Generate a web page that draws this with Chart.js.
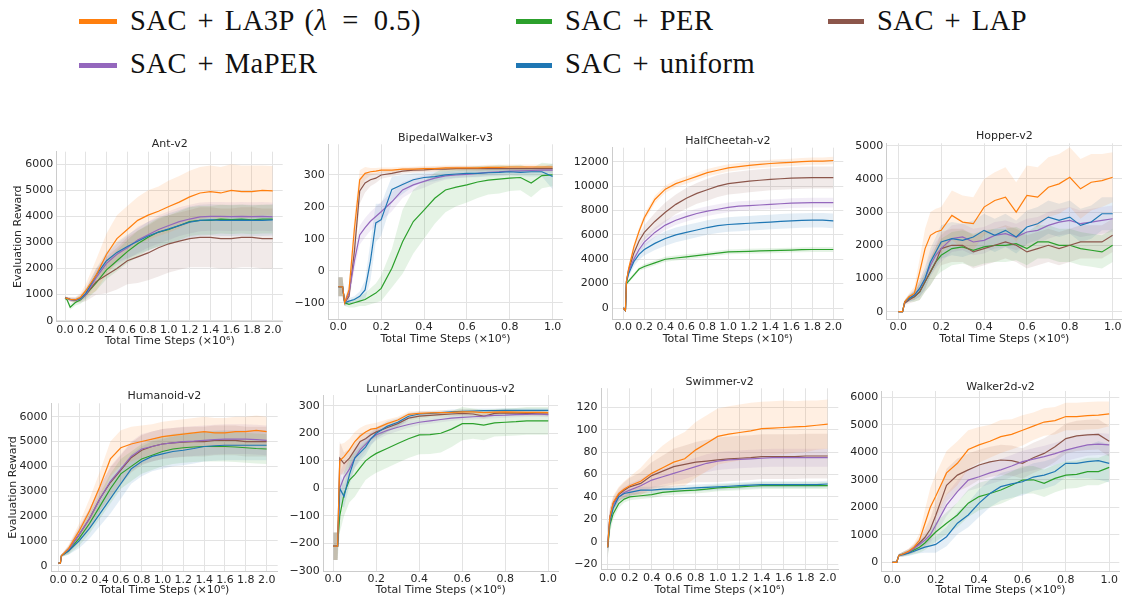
<!DOCTYPE html>
<html>
<head>
<meta charset="utf-8">
<script src="https://cdn.jsdelivr.net/npm/chart.js@4.4.1/dist/chart.umd.min.js"></script>
<style>
  html, body { margin: 0; padding: 0; background: #fff; }
  body { position: relative; width: 1122px; height: 596px; overflow: hidden; }
  canvas { position: absolute; }
  .key { position: absolute; height: 5px; }
  .lab { position: absolute; font-family: "Liberation Serif", serif; font-size: 28.5px; line-height: 28.5px;
         color: #111; white-space: nowrap; letter-spacing: 0.5px; word-spacing: 3px; }
</style>
</head>
<body>
<div class="key" style="left:79px;top:18.5px;width:38px;background:#ff7f0e"></div>
<div class="lab" style="left:130px;top:6.8px">SAC + LA3P (<i>λ</i><span style="padding:0 15px">=</span>0.5)</div>
<div class="key" style="left:79px;top:62.5px;width:38px;background:#9467bd"></div>
<div class="lab" style="left:130px;top:50.1px">SAC + MaPER</div>
<div class="key" style="left:516px;top:18.5px;width:36px;background:#2ca02c"></div>
<div class="lab" style="left:565px;top:6.8px">SAC + PER</div>
<div class="key" style="left:516px;top:62.5px;width:36px;background:#1f77b4"></div>
<div class="lab" style="left:565px;top:50.1px">SAC + uniform</div>
<div class="key" style="left:828px;top:18.5px;width:36px;background:#8c564b"></div>
<div class="lab" style="left:877px;top:6.8px">SAC + LAP</div>

<script>
// method colours (matplotlib tab10)
const cLA3P = "#ff7f0e", cPER = "#2ca02c", cLAP = "#8c564b", cMaPER = "#9467bd", cUni = "#1f77b4";

const longTicks = [0, 0.2, 0.4, 0.6, 0.8, 1.0, 1.2, 1.4, 1.6, 1.8, 2.0];
const shortTicks = [0, 0.2, 0.4, 0.6, 0.8, 1.0];

// ---- Ant-v2 ----
const antX = [0, 0.02, 0.05, 0.1, 0.15, 0.2, 0.3, 0.4, 0.5, 0.6, 0.7, 0.8, 0.9, 1.0, 1.1, 1.2, 1.3, 1.4, 1.5, 1.6, 1.7, 1.8, 1.9, 2.0];
const antYTicks = [0, 1000, 2000, 3000, 4000, 5000, 6000];
const antLA3P = [870, 860, 820, 800, 900, 1150, 1750, 2550, 3150, 3500, 3850, 4050, 4200, 4380, 4550, 4750, 4900, 4950, 4900, 5000, 4950, 4950, 5000, 4980];
const antLA3Psd = [60, 60, 80, 100, 150, 250, 600, 800, 900, 900, 900, 950, 950, 1000, 1000, 1000, 1000, 1000, 1000, 1000, 1000, 1000, 950, 950];
const antPER = [870, 800, 520, 700, 800, 1000, 1450, 1950, 2300, 2650, 2950, 3200, 3400, 3500, 3650, 3800, 3850, 3850, 3900, 3880, 3900, 3870, 3900, 3900];
const antPERsd = [50, 80, 100, 120, 150, 200, 300, 350, 400, 450, 500, 500, 550, 550, 550, 550, 550, 550, 550, 550, 550, 550, 550, 550];
const antLAP = [870, 860, 820, 790, 850, 1000, 1500, 1750, 2000, 2300, 2450, 2600, 2800, 2950, 3050, 3150, 3200, 3200, 3150, 3150, 3200, 3200, 3150, 3150];
const antLAPsd = [50, 50, 80, 100, 150, 250, 500, 700, 800, 900, 1000, 1050, 1100, 1100, 1100, 1100, 1150, 1150, 1150, 1150, 1150, 1150, 1150, 1150];
const antMaPER = [870, 860, 800, 780, 830, 1000, 1650, 2200, 2550, 2800, 3100, 3300, 3500, 3650, 3800, 3900, 3980, 4000, 4000, 3990, 4000, 3990, 4000, 3980];
const antMaPERsd = [50, 50, 60, 80, 100, 150, 250, 350, 400, 450, 500, 500, 550, 550, 550, 550, 550, 550, 550, 550, 550, 550, 550, 550];
const antUni = [870, 860, 820, 790, 850, 1050, 1750, 2300, 2620, 2850, 3050, 3250, 3400, 3520, 3650, 3780, 3850, 3870, 3850, 3850, 3860, 3850, 3850, 3870];
const antUnisd = [50, 50, 60, 80, 100, 150, 250, 350, 400, 450, 500, 550, 550, 600, 600, 600, 600, 600, 600, 600, 600, 600, 600, 600];

// ---- BipedalWalker-v3 ----
const bipX = [0, 0.02, 0.03, 0.05, 0.075, 0.1, 0.125, 0.15, 0.175, 0.2, 0.25, 0.3, 0.35, 0.4, 0.45, 0.5, 0.55, 0.6, 0.65, 0.7, 0.75, 0.8, 0.85, 0.9, 0.95, 1.0];
const bipYTicks = [-100, 0, 100, 200, 300];
const bipLA3P = [-50, -50, -100, -60, 130, 285, 305, 310, 312, 315, 315, 318, 318, 320, 320, 322, 322, 322, 322, 324, 324, 325, 325, 325, 325, 325];
const bipLA3Psd = [30, 30, 10, 20, 40, 30, 20, 12, 10, 8, 8, 8, 8, 8, 8, 8, 8, 8, 8, 8, 8, 8, 8, 8, 8, 8];
const bipPER = [-50, -50, -100, -105, -100, -95, -90, -80, -70, -55, 8, 91, 154, 190, 227, 253, 262, 269, 278, 284, 287, 290, 292, 275, 298, 300];
const bipPERsd = [30, 30, 10, 10, 15, 15, 20, 25, 30, 40, 60, 100, 100, 90, 80, 70, 60, 55, 50, 45, 45, 40, 40, 45, 40, 35];
const bipLAP = [-50, -50, -100, -80, 60, 250, 275, 285, 290, 300, 305, 312, 315, 316, 318, 318, 320, 320, 320, 320, 320, 320, 320, 320, 320, 320];
const bipLAPsd = [30, 30, 10, 20, 40, 40, 30, 20, 15, 12, 10, 8, 8, 8, 8, 8, 8, 8, 8, 8, 8, 8, 8, 8, 8, 8];
const bipMaPER = [-50, -50, -100, -70, 30, 112, 135, 155, 170, 185, 216, 253, 269, 280, 290, 297, 300, 302, 305, 308, 310, 312, 313, 314, 315, 315];
const bipMaPERsd = [30, 30, 10, 20, 30, 30, 30, 30, 30, 30, 30, 25, 20, 20, 15, 12, 10, 10, 10, 10, 10, 10, 10, 10, 10, 10];
const bipUni = [-50, -50, -100, -95, -90, -80, -60, 30, 150, 160, 255, 270, 285, 292, 295, 300, 303, 305, 305, 307, 308, 310, 308, 310, 310, 295];
const bipUnisd = [30, 30, 10, 10, 10, 15, 30, 60, 60, 50, 40, 30, 20, 15, 15, 12, 12, 12, 12, 12, 12, 12, 12, 15, 15, 40];

// ---- HalfCheetah-v2 ----
const hcX = [0, 0.02, 0.03, 0.05, 0.1, 0.15, 0.2, 0.3, 0.4, 0.5, 0.6, 0.7, 0.8, 0.9, 1.0, 1.1, 1.2, 1.3, 1.4, 1.5, 1.6, 1.7, 1.8, 1.9, 2.0];
const hcYTicks = [0, 2000, 4000, 6000, 8000, 10000, 12000];
const hcLA3P = [0, -200, 2200, 3200, 5000, 6300, 7400, 8900, 9750, 10200, 10500, 10800, 11100, 11300, 11500, 11600, 11700, 11780, 11850, 11900, 11950, 12000, 12050, 12050, 12100];
const hcLA3Psd = [50, 100, 200, 250, 300, 300, 300, 300, 300, 300, 300, 300, 300, 300, 300, 300, 300, 300, 300, 300, 300, 300, 300, 300, 300];
const hcPER = [0, -200, 2000, 2200, 2700, 3200, 3400, 3700, 4000, 4100, 4200, 4300, 4400, 4500, 4600, 4620, 4650, 4680, 4700, 4720, 4750, 4780, 4800, 4800, 4800];
const hcPERsd = [50, 100, 150, 150, 150, 150, 200, 200, 200, 200, 200, 200, 200, 200, 200, 200, 200, 200, 200, 200, 200, 200, 200, 200, 200];
const hcLAP = [0, -200, 2200, 3100, 4500, 5500, 6200, 7100, 7850, 8500, 9000, 9400, 9700, 10000, 10200, 10300, 10400, 10480, 10550, 10600, 10650, 10680, 10700, 10700, 10700];
const hcLAPsd = [50, 100, 200, 300, 400, 500, 600, 700, 800, 800, 850, 850, 900, 900, 900, 900, 900, 900, 900, 900, 900, 900, 900, 900, 900];
const hcMaPER = [0, -200, 2200, 3000, 4000, 4800, 5400, 6200, 6800, 7200, 7500, 7750, 7950, 8100, 8250, 8350, 8400, 8450, 8500, 8550, 8600, 8620, 8650, 8650, 8650];
const hcMaPERsd = [50, 100, 200, 250, 300, 350, 400, 400, 400, 400, 400, 400, 400, 400, 400, 400, 400, 400, 400, 400, 400, 400, 400, 400, 400];
const hcUni = [0, -200, 2100, 2800, 3800, 4400, 4800, 5300, 5700, 6000, 6200, 6400, 6600, 6750, 6850, 6900, 6950, 7000, 7050, 7100, 7150, 7180, 7200, 7200, 7150];
const hcUnisd = [50, 100, 200, 300, 400, 450, 500, 550, 600, 600, 600, 600, 600, 600, 600, 600, 600, 600, 600, 600, 600, 600, 600, 600, 600];

// ---- Hopper-v2 ----
const hopX = [0, 0.02, 0.03, 0.05, 0.075, 0.1, 0.125, 0.15, 0.175, 0.2, 0.25, 0.3, 0.35, 0.4, 0.45, 0.5, 0.55, 0.6, 0.65, 0.7, 0.75, 0.8, 0.85, 0.9, 0.95, 1.0];
const hopYTicks = [0, 1000, 2000, 3000, 4000, 5000];
const hopLA3P = [0, 0, 300, 450, 550, 1200, 1900, 2300, 2400, 2450, 2900, 2700, 2650, 3150, 3350, 3450, 3000, 3500, 3450, 3750, 3850, 4050, 3700, 3900, 3950, 4050];
const hopLA3Psd = [0, 0, 50, 100, 200, 400, 600, 700, 700, 700, 750, 800, 800, 850, 850, 900, 900, 900, 900, 900, 900, 900, 900, 850, 800, 750];
const hopPER = [0, 0, 300, 400, 450, 600, 900, 1200, 1500, 1700, 1900, 1950, 1850, 1950, 2000, 2000, 2050, 1900, 2100, 2100, 2000, 2000, 1900, 1850, 1800, 2000];
const hopPERsd = [0, 0, 50, 100, 150, 250, 300, 400, 450, 500, 500, 500, 500, 500, 500, 500, 500, 500, 500, 500, 500, 500, 500, 500, 500, 500];
const hopLAP = [0, 0, 250, 350, 450, 600, 900, 1200, 1500, 1900, 2000, 2000, 1800, 1900, 2000, 2100, 2000, 1800, 1900, 2000, 1900, 2000, 2100, 2100, 2100, 2300];
const hopLAPsd = [0, 0, 50, 100, 150, 250, 300, 400, 450, 500, 500, 500, 500, 500, 500, 500, 500, 500, 500, 500, 500, 500, 500, 500, 500, 500];
const hopMaPER = [0, 0, 300, 400, 500, 700, 1000, 1400, 1700, 1900, 2200, 2250, 2100, 2150, 2300, 2350, 2250, 2400, 2450, 2600, 2700, 2750, 2650, 2700, 2750, 2800];
const hopMaPERsd = [0, 0, 50, 100, 150, 250, 300, 350, 400, 400, 400, 400, 400, 400, 400, 400, 400, 400, 400, 400, 400, 400, 400, 400, 400, 400];
const hopUni = [0, 0, 300, 400, 500, 700, 1000, 1500, 1800, 2100, 2200, 2150, 2250, 2450, 2300, 2450, 2250, 2550, 2650, 2850, 2750, 2850, 2600, 2700, 2950, 2950];
const hopUnisd = [0, 0, 50, 100, 150, 250, 350, 400, 450, 500, 500, 500, 500, 500, 500, 500, 500, 500, 500, 500, 500, 500, 500, 500, 500, 500];

// ---- Humanoid-v2 ----
const humX = [0, 0.02, 0.03, 0.1, 0.2, 0.3, 0.4, 0.5, 0.6, 0.7, 0.8, 0.9, 1.0, 1.1, 1.2, 1.3, 1.4, 1.5, 1.6, 1.7, 1.8, 1.9, 2.0];
const humYTicks = [0, 1000, 2000, 3000, 4000, 5000, 6000];
const humLA3P = [100, 100, 400, 700, 1400, 2200, 3200, 4300, 4750, 4900, 5000, 5100, 5200, 5250, 5300, 5350, 5400, 5350, 5350, 5400, 5400, 5450, 5400];
const humLA3Psd = [20, 20, 50, 150, 300, 500, 600, 700, 700, 700, 650, 600, 600, 600, 600, 600, 600, 600, 600, 600, 600, 600, 600];
const humPER = [100, 100, 400, 600, 1100, 1700, 2400, 3100, 3700, 4000, 4300, 4450, 4600, 4700, 4750, 4780, 4800, 4800, 4800, 4780, 4750, 4720, 4700];
const humPERsd = [20, 20, 50, 150, 300, 400, 500, 600, 600, 600, 600, 600, 600, 600, 600, 600, 600, 600, 600, 600, 600, 600, 600];
const humLAP = [100, 100, 400, 650, 1250, 1900, 2700, 3350, 3850, 4350, 4650, 4800, 4900, 4950, 4980, 5000, 5000, 5050, 5050, 5050, 5000, 5000, 5000];
const humLAPsd = [20, 20, 50, 150, 300, 400, 500, 600, 600, 600, 600, 600, 600, 600, 600, 600, 600, 600, 600, 600, 600, 600, 600];
const humMaPER = [100, 100, 400, 650, 1250, 1900, 2700, 3400, 3900, 4400, 4700, 4800, 4900, 4950, 5000, 5020, 5050, 5080, 5100, 5100, 5100, 5080, 5050];
const humMaPERsd = [20, 20, 50, 150, 300, 400, 500, 600, 600, 600, 600, 600, 600, 600, 600, 600, 600, 600, 600, 600, 600, 600, 600];
const humUni = [100, 100, 400, 600, 1000, 1500, 2100, 2700, 3300, 3900, 4200, 4400, 4500, 4600, 4650, 4720, 4800, 4830, 4850, 4850, 4850, 4850, 4850];
const humUnisd = [20, 20, 50, 150, 300, 400, 500, 600, 600, 600, 600, 600, 600, 600, 600, 600, 600, 600, 600, 600, 600, 600, 600];

// ---- LunarLanderContinuous-v2 ----
const lunX = [0, 0.02, 0.03, 0.05, 0.075, 0.1, 0.125, 0.15, 0.175, 0.2, 0.25, 0.3, 0.35, 0.4, 0.45, 0.5, 0.55, 0.6, 0.65, 0.7, 0.75, 0.8, 0.85, 0.9, 0.95, 1.0];
const lunYTicks = [-300, -200, -100, 0, 100, 200, 300];
const lunLA3P = [-210, -210, 100, 115, 140, 170, 190, 205, 215, 218, 235, 248, 269, 272, 274, 275, 276, 278, 278, 275, 277, 278, 277, 276, 276, 275];
const lunLA3Psd = [50, 50, 60, 50, 40, 35, 30, 25, 20, 20, 15, 12, 10, 8, 8, 8, 8, 8, 8, 8, 8, 8, 8, 8, 8, 8];
const lunPER = [-210, -210, -100, -20, 30, 50, 75, 100, 115, 127, 145, 163, 180, 194, 195, 200, 215, 235, 235, 230, 238, 240, 242, 245, 245, 245];
const lunPERsd = [50, 50, 60, 80, 80, 80, 75, 70, 70, 70, 70, 70, 70, 70, 70, 70, 65, 60, 55, 55, 50, 50, 50, 50, 50, 50];
const lunLAP = [-210, -210, 110, 90, 110, 140, 170, 180, 195, 205, 220, 235, 255, 262, 265, 268, 270, 272, 270, 262, 272, 274, 273, 272, 271, 270];
const lunLAPsd = [50, 50, 60, 40, 35, 30, 30, 25, 20, 20, 15, 12, 10, 10, 8, 8, 8, 8, 8, 8, 8, 8, 8, 8, 8, 8];
const lunMaPER = [-210, -210, 0, 40, 70, 110, 140, 160, 180, 195, 210, 222, 232, 240, 245, 250, 255, 258, 260, 262, 265, 266, 268, 269, 270, 268];
const lunMaPERsd = [50, 50, 60, 50, 40, 35, 30, 25, 20, 20, 15, 15, 12, 10, 10, 10, 10, 10, 10, 10, 10, 10, 10, 10, 10, 10];
const lunUni = [-210, -210, 0, -30, 50, 110, 130, 150, 180, 200, 225, 240, 262, 270, 272, 275, 278, 280, 281, 282, 282, 283, 283, 283, 283, 283];
const lunUnisd = [50, 50, 60, 40, 40, 35, 30, 30, 25, 20, 20, 15, 12, 10, 8, 8, 8, 8, 8, 8, 8, 8, 8, 8, 8, 8];

// ---- Swimmer-v2 ----
const swX = [0, 0.01, 0.02, 0.05, 0.1, 0.15, 0.2, 0.3, 0.4, 0.5, 0.6, 0.7, 0.8, 0.9, 1.0, 1.1, 1.2, 1.3, 1.4, 1.5, 1.6, 1.7, 1.8, 1.9, 2.0];
const swYTicks = [-20, 0, 20, 40, 60, 80, 100, 120];
const swLA3P = [-5, 10, 22, 35, 43, 47, 50, 54, 61, 66, 71, 74, 82, 88, 94, 96, 97.5, 99, 101, 101.5, 102, 102.5, 103, 104, 105];
const swLA3Psd = [10, 10, 8, 6, 6, 7, 8, 12, 16, 20, 22, 24, 25, 25, 25, 25, 25, 25, 24, 24, 24, 23, 23, 22, 22];
const swPER = [-5, 5, 15, 25, 34, 38, 40, 41, 42, 44, 45, 45.5, 46, 47, 48, 48.5, 49, 49.5, 50, 50, 50, 50, 50, 50, 50];
const swPERsd = [10, 10, 8, 5, 4, 3, 3, 3, 3, 3, 3, 3, 3, 3, 3, 3, 3, 3, 3, 3, 3, 3, 3, 3, 3];
const swLAP = [-5, 10, 22, 34, 42, 46, 49, 52, 59, 63, 67, 69, 71, 72, 73, 74, 74.5, 75, 76, 76, 76, 76, 76.5, 76.5, 76.5];
const swLAPsd = [10, 10, 8, 6, 6, 7, 8, 10, 12, 14, 16, 17, 18, 19, 20, 20, 20, 20, 20, 20, 20, 20, 20, 20, 20];
const swMaPER = [-5, 10, 22, 33, 40, 44, 46, 50, 55, 58, 61, 64, 67, 70, 72, 73, 73.5, 74, 74.5, 75, 75, 75, 75, 75, 75];
const swMaPERsd = [10, 10, 8, 5, 5, 5, 6, 6, 7, 7, 8, 8, 8, 8, 8, 8, 8, 8, 8, 8, 8, 8, 8, 8, 8];
const swUni = [-5, 8, 18, 30, 40, 43, 44, 46, 46, 47, 47, 47.5, 48, 48.5, 49, 49.5, 50, 50.5, 51, 51, 51, 51, 51, 51, 51.5];
const swUnisd = [10, 10, 8, 5, 4, 4, 3, 3, 3, 3, 3, 3, 3, 3, 3, 3, 3, 3, 3, 3, 3, 3, 3, 3, 3];

// ---- Walker2d-v2 ----
const walX = [0, 0.02, 0.03, 0.05, 0.075, 0.1, 0.125, 0.15, 0.175, 0.2, 0.25, 0.3, 0.35, 0.4, 0.45, 0.5, 0.55, 0.6, 0.65, 0.7, 0.75, 0.8, 0.85, 0.9, 0.95, 1.0];
const walYTicks = [0, 1000, 2000, 3000, 4000, 5000, 6000];
const walLA3P = [0, 0, 250, 300, 400, 550, 800, 1400, 2000, 2400, 3250, 3600, 4100, 4270, 4400, 4570, 4650, 4800, 4950, 5100, 5150, 5300, 5300, 5330, 5350, 5400];
const walLA3Psd = [0, 0, 50, 80, 100, 150, 250, 500, 700, 800, 800, 800, 700, 650, 600, 600, 550, 550, 500, 500, 500, 500, 500, 500, 500, 450];
const walPER = [0, 0, 250, 300, 350, 450, 550, 700, 900, 1100, 1420, 1720, 2150, 2390, 2500, 2630, 2800, 2990, 3000, 2870, 3050, 3170, 3200, 3300, 3300, 3450];
const walPERsd = [0, 0, 50, 80, 100, 150, 200, 250, 300, 350, 400, 450, 500, 500, 500, 500, 500, 500, 500, 500, 500, 500, 500, 500, 500, 500];
const walLAP = [0, 0, 250, 300, 380, 500, 700, 900, 1200, 1700, 2800, 3170, 3360, 3540, 3650, 3720, 3700, 3600, 3800, 3960, 4200, 4500, 4600, 4630, 4650, 4400];
const walLAPsd = [0, 0, 50, 80, 100, 150, 200, 300, 400, 500, 600, 600, 600, 550, 550, 550, 550, 550, 550, 550, 550, 550, 550, 550, 550, 550];
const walMaPER = [0, 0, 250, 300, 380, 500, 650, 800, 1000, 1350, 2080, 2570, 2990, 3110, 3250, 3360, 3500, 3660, 3750, 3840, 3950, 4080, 4180, 4270, 4300, 4270];
const walMaPERsd = [0, 0, 50, 80, 100, 150, 200, 250, 300, 350, 400, 400, 400, 400, 400, 400, 400, 400, 400, 400, 400, 400, 400, 400, 400, 400];
const walUni = [0, 0, 250, 280, 330, 400, 480, 550, 600, 650, 930, 1420, 1720, 2150, 2500, 2750, 2850, 2930, 3100, 3170, 3300, 3600, 3600, 3660, 3700, 3600];
const walUnisd = [0, 0, 50, 80, 100, 120, 150, 200, 250, 300, 350, 400, 450, 500, 500, 500, 500, 500, 500, 500, 500, 500, 550, 600, 700, 700];

// panel placement in page pixels: plot box [left, top, right, bottom]
const panels = [
  { title: "Ant-v2", xs: antX, xt: longTicks, yt: antYTicks, box: [56.7, 151.7, 282.7, 321.7], tY: 143.7, xlY: 340.7, ylX: 18.3,
    xr: [-0.08, 2.096], yr: [-38, 6483],
    s: [[antLA3P, antLA3Psd], [antPER, antPERsd], [antLAP, antLAPsd], [antMaPER, antMaPERsd], [antUni, antUnisd]] },
  { title: "BipedalWalker-v3", xs: bipX, xt: shortTicks, yt: bipYTicks, box: [328.3, 144.3, 562.7, 319], tY: 138.3, xlY: 339.3,
    xr: [-0.0466, 1.047], yr: [-151, 396],
    s: [[bipLA3P, bipLA3Psd], [bipPER, bipPERsd], [bipLAP, bipLAPsd], [bipMaPER, bipMaPERsd], [bipUni, bipUnisd]] },
  { title: "HalfCheetah-v2", xs: hcX, xt: longTicks, yt: hcYTicks, box: [612.3, 147.7, 843.3, 319], tY: 140.7, xlY: 339.3,
    xr: [-0.105, 2.095], yr: [-902, 13148],
    s: [[hcLA3P, hcLA3Psd], [hcPER, hcPERsd], [hcLAP, hcLAPsd], [hcMaPER, hcMaPERsd], [hcUni, hcUnisd]] },
  { title: "Hopper-v2", xs: hopX, xt: shortTicks, yt: hopYTicks, box: [886.7, 143.3, 1122, 319], tY: 135.7, xlY: 339.3,
    xr: [-0.054, 1.0435], yr: [-220, 5072],
    s: [[hopLA3P, hopLA3Psd], [hopPER, hopPERsd], [hopLAP, hopLAPsd], [hopMaPER, hopMaPERsd], [hopUni, hopUnisd]] },
  { title: "Humanoid-v2", xs: humX, xt: longTicks, yt: humYTicks, box: [51, 403.3, 277.7, 571.7], tY: 395.7, xlY: 590, ylX: 13.3,
    xr: [-0.07, 2.106], yr: [-242, 6540],
    s: [[humLA3P, humLA3Psd], [humPER, humPERsd], [humLAP, humLAPsd], [humMaPER, humMaPERsd], [humUni, humUnisd]] },
  { title: "LunarLanderContinuous-v2", xs: lunX, xt: shortTicks, yt: lunYTicks, box: [323.3, 395, 558, 571], tY: 389, xlY: 590,
    xr: [-0.0465, 1.0453], yr: [-300, 339],
    s: [[lunLA3P, lunLA3Psd], [lunPER, lunPERsd], [lunLAP, lunLAPsd], [lunMaPER, lunMaPERsd], [lunUni, lunUnisd]] },
  { title: "Swimmer-v2", xs: swX, xt: longTicks, yt: swYTicks, box: [601, 388.3, 838.3, 569.3], tY: 382.3, xlY: 590,
    xr: [-0.061, 2.096], yr: [-24.7, 137],
    s: [[swLA3P, swLA3Psd], [swPER, swPERsd], [swLAP, swLAPsd], [swMaPER, swMaPERsd], [swUni, swUnisd]] },
  { title: "Walker2d-v2", xs: walX, xt: shortTicks, yt: walYTicks, box: [881.7, 391, 1119.3, 571.7], tY: 386.7, xlY: 590,
    xr: [-0.049, 1.0465], yr: [-342, 6229],
    s: [[walLA3P, walLA3Psd], [walPER, walPERsd], [walLAP, walLAPsd], [walMaPER, walMaPERsd], [walUni, walUnisd]] }
];

const colors = [cLA3P, cPER, cLAP, cMaPER, cUni];
const lineOrder = [0, 4, 3, 2, 1]; // lower = drawn on top
const font = "DejaVu Sans";
const ink = "#262626";

// draws the panel title centred over the plot area
const panelTitle = {
  id: "panelTitle",
  afterDraw(chart, args, opts) {
    const { ctx, chartArea } = chart;
    ctx.save();
    ctx.font = "11px '" + font + "'";
    ctx.fillStyle = ink;
    ctx.textAlign = "center";
    ctx.textBaseline = "middle";
    ctx.fillText(opts.text, (chartArea.left + chartArea.right) / 2, opts.y);
    ctx.restore();
  }
};

const fmtMinus = (v) => (v < 0 ? "\u2212" + Math.abs(v) : String(v));

panels.forEach((p, n) => {
  const [L, T, R, B] = p.box;
  const cl = Math.floor(L - 62), ct = Math.floor(T - 26);
  const cw = Math.ceil(R + 6) - cl, ch = Math.ceil(B + 36) - ct;
  const cv = document.createElement("canvas");
  cv.width = cw; cv.height = ch;
  cv.style.left = cl + "px"; cv.style.top = ct + "px";
  cv.style.width = cw + "px"; cv.style.height = ch + "px";
  document.body.appendChild(cv);

  const datasets = [];
  p.s.forEach(([mean, sd], k) => {
    datasets.push({
      data: p.xs.map((x, i) => ({ x: x, y: mean[i] })),
      borderColor: colors[k], borderWidth: 1.2, pointRadius: 0, fill: false, order: lineOrder[k]
    });
  });
  p.s.forEach(([mean, sd], k) => {
    datasets.push({
      data: p.xs.map((x, i) => ({ x: x, y: mean[i] + sd[i] })),
      borderWidth: 0, borderColor: "transparent", pointRadius: 0, fill: false, order: 10
    });
    datasets.push({
      data: p.xs.map((x, i) => ({ x: x, y: mean[i] - sd[i] })),
      borderWidth: 0, borderColor: "transparent", pointRadius: 0, order: 10,
      fill: "-1", backgroundColor: colors[k] + "1f"
    });
  });

  new Chart(cv, {
    type: "line",
    data: { datasets: datasets },
    plugins: [panelTitle],
    options: {
      responsive: false, animation: false, events: [],
      layout: { padding: { left: 0, top: T - ct, right: cl + cw - R, bottom: 0 } },
      plugins: {
        legend: { display: false }, tooltip: { enabled: false },
        panelTitle: { text: p.title, y: p.tY - ct }
      },
      scales: {
        x: {
          type: "linear", min: p.xr[0], max: p.xr[1],
          afterBuildTicks: (s) => { s.ticks = p.xt.map((v) => ({ value: v })); },
          afterFit: (s) => { s.height = ct + ch - B; },
          ticks: { autoSkip: false, maxRotation: 0, minRotation: 0, padding: 2, color: ink,
                   font: { family: font, size: 11 }, callback: (v) => v.toFixed(1) },
          grid: { color: "#e3e3e3", drawTicks: false },
          border: { color: "#cccccc" },
          title: { display: true, text: "Total Time Steps (\u00d710\u2076)", color: ink,
                   font: { family: font, size: 11 }, padding: { top: 0, bottom: ct + ch - p.xlY - 6.6 } }
        },
        y: {
          type: "linear", min: p.yr[0], max: p.yr[1],
          afterBuildTicks: (s) => { s.ticks = p.yt.map((v) => ({ value: v })); },
          afterFit: (s) => { s.width = L - cl; },
          ticks: { padding: 3.5, color: ink, font: { family: font, size: 11 }, callback: fmtMinus },
          grid: { color: "#e3e3e3", drawTicks: false },
          border: { color: "#cccccc" },
          title: { display: !!p.ylX, text: "Evaluation Reward", color: ink,
                   font: { family: font, size: 11 }, padding: { top: p.ylX ? p.ylX - cl - 6.6 : 0, bottom: 0 } }
        }
      }
    }
  });
});
</script>
</body>
</html>
